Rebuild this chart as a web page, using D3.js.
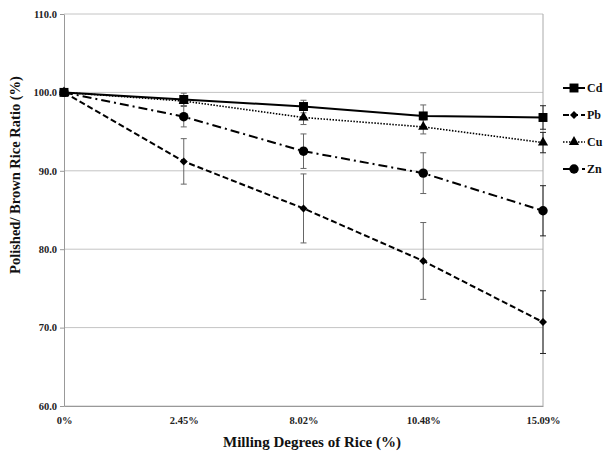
<!DOCTYPE html>
<html>
<head>
<meta charset="utf-8">
<script src="https://cdn.jsdelivr.net/npm/d3@7"></script>
<style>
  body { margin: 0; background: #fff; }
  svg text { font-family: "Liberation Serif", "Times New Roman", serif; font-weight: bold; }
</style>
</head>
<body>
<div id="chart"></div>
<script>
// ---------------- data ----------------
const degrees = ['0%', '2.45%', '8.02%', '10.48%', '15.09%']
const yTicks = [60, 70, 80, 90, 100, 110]

const cdVals = [100, 99.1, 98.2, 97.0, 96.8]
const cdErr = [0, 0.8, 0.8, 1.4, 1.5]
const pbVals = [100, 91.2, 85.2, 78.5, 70.7]
const pbErr = [0, 2.9, 4.4, 4.9, 4.0]
const cuVals = [100, 98.9, 96.8, 95.6, 93.6]
const cuErr = [0, 0.6, 0.9, 0.9, 1.3]
const znVals = [100, 96.9, 92.5, 89.7, 84.9]
const znErr = [0, 1.3, 2.2, 2.6, 3.2]

const series = [
  { name: 'Cd', vals: cdVals, err: cdErr, dash: null, marker: 'square' },
  { name: 'Pb', vals: pbVals, err: pbErr, dash: '6,3', marker: 'diamond' },
  { name: 'Cu', vals: cuVals, err: cuErr, dash: '1.5,1.5', marker: 'triangle' },
  { name: 'Zn', vals: znVals, err: znErr, dash: '9,4,2,4', marker: 'circle' }
]

//================ layout ================
const width = 603, height = 453
const margin = { top: 14, right: 60, bottom: 47, left: 64 }

const svg = d3.select('#chart').append('svg')
  .attr('width', width)
  .attr('height', height)

const x = d3.scalePoint()
  .domain(degrees)
  .range([margin.left, width - margin.right])
  .padding(0)

const y = d3.scaleLinear()
  .domain([60, 110])
  .range([height - margin.bottom, margin.top])

// gridlines
svg.append('g')
  .selectAll('line')
  .data(yTicks)
  .enter()
  .append('line')
  .attr('x1', margin.left)
  .attr('x2', width - margin.right)
  .attr('y1', d => y(d))
  .attr('y2', d => y(d))
  .attr('stroke', '#c4c4c4')
  .attr('stroke-width', 1)

// right border
svg.append('line')
  .attr('x1', width - margin.right).attr('x2', width - margin.right)
  .attr('y1', y(110)).attr('y2', y(60))
  .attr('stroke', '#aaa')

// y axis
const yAxis = svg.append('g')
  .attr('transform', `translate(${margin.left},0)`)
  .call(d3.axisLeft(y).tickValues(yTicks).tickFormat(d3.format('.1f')).tickSize(4).tickSizeOuter(0))
yAxis.select('.domain').attr('stroke', '#999')
yAxis.selectAll('.tick line').attr('stroke', '#999')
yAxis.selectAll('.tick text')
  .attr('font-size', 10.5)
  .attr('fill', '#222')
  .attr('x', -7)

// x axis
const xAxis = svg.append('g')
  .attr('transform', `translate(0,${y(60)})`)
  .call(d3.axisBottom(x).tickSize(0).tickPadding(11))
xAxis.select('.domain').attr('stroke', '#999')
xAxis.selectAll('.tick text')
  .attr('font-size', 10.5)
  .attr('fill', '#222')

// axis titles
svg.append('text')
  .attr('x', 312)
  .attr('y', 447)
  .attr('text-anchor', 'middle')
  .attr('font-size', 15)
  .attr('fill', '#111')
  .text('Milling Degrees of Rice (%)')

svg.append('text')
  .attr('transform', 'translate(20,175) rotate(-90)')
  .attr('text-anchor', 'middle')
  .attr('font-size', 14.5)
  .attr('fill', '#111')
  .text('Polished/ Brown Rice Ratio (%)')

//================ marks ================
const markerPath = (type) => {
  if (type === 'square') return d3.symbol(d3.symbolSquare, 80)()
  if (type === 'diamond') return 'M0,-4L4,0L0,4L-4,0Z'
  if (type === 'triangle') return d3.symbol(d3.symbolTriangle, 45)()
  return d3.symbol(d3.symbolCircle, 70)()
}

// error bars
series.forEach(s => {
  const g = svg.append('g').attr('class', 'err ' + s.name)
  degrees.forEach((c, i) => {
    if (!s.err[i]) return
    const cx = x(c)
    const y0 = y(s.vals[i] - s.err[i]), y1 = y(s.vals[i] + s.err[i])
    const col = i === degrees.length - 1 ? '#222' : '#666'
    g.append('line').attr('x1', cx).attr('x2', cx).attr('y1', y0).attr('y2', y1).attr('stroke', col)
    g.append('line').attr('x1', cx - 3).attr('x2', cx + 3).attr('y1', y0).attr('y2', y0).attr('stroke', col)
    g.append('line').attr('x1', cx - 3).attr('x2', cx + 3).attr('y1', y1).attr('y2', y1).attr('stroke', col)
  })
})

const line = d3.line()
  .x((d, i) => x(degrees[i]))
  .y(d => y(d))

series.forEach(s => {
  svg.append('path')
    .datum(s.vals)
    .attr('d', line)
    .attr('fill', 'none')
    .attr('stroke', '#000')
    .attr('stroke-width', s.name === 'Cu' ? 1.6 : 2)
    .attr('stroke-dasharray', s.dash)

  svg.append('g')
    .selectAll('path')
    .data(s.vals)
    .enter()
    .append('path')
    .attr('d', markerPath(s.marker))
    .attr('transform', (d, i) => `translate(${x(degrees[i])},${y(d)})`)
    .attr('fill', '#000')
})

//================ legend ================
const legend = svg.append('g')
  .attr('transform', 'translate(563,88)')

series.forEach((s, i) => {
  const g = legend.append('g').attr('transform', `translate(0,${i * 27})`)
  g.append('line')
    .attr('x1', 0).attr('x2', 22)
    .attr('stroke', '#000')
    .attr('stroke-width', s.name === 'Cu' ? 1.6 : 2)
    .attr('stroke-dasharray', s.dash)
  g.append('path')
    .attr('d', markerPath(s.marker))
    .attr('transform', 'translate(11,0)')
  g.append('text')
    .attr('x', 24)
    .attr('dy', '0.35em')
    .attr('font-size', 12)
    .attr('fill', '#111')
    .text(s.name)
})
</script>
</body>
</html>
